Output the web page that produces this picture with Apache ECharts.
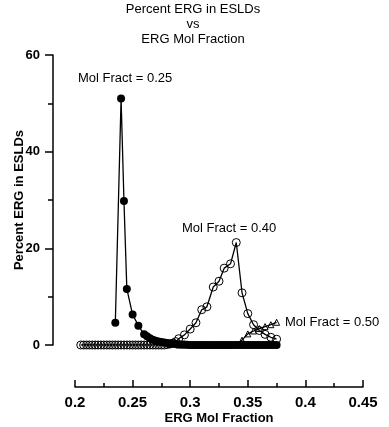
<!DOCTYPE html>
<html>
<head>
<meta charset="utf-8">
<script src="https://cdn.jsdelivr.net/npm/echarts@6/dist/echarts.min.js"></script>
<style>
  html, body { margin: 0; padding: 0; background: #fff; }
  #main { width: 389px; height: 427px; }
</style>
</head>
<body>
<div id="main"></div>
<script>
// Mol Fract = 0.25 (filled circles)
var x025 = [0.235, 0.24, 0.2425, 0.245, 0.25, 0.255, 0.26, 0.2625, 0.265, 0.2675, 0.27, 0.2725,
  0.275, 0.2775, 0.28, 0.2825, 0.285, 0.2875, 0.29, 0.2925, 0.295, 0.2975, 0.3, 0.3025, 0.305,
  0.3075, 0.31, 0.3125, 0.315, 0.3175, 0.32, 0.3225, 0.325, 0.3275, 0.33, 0.3325, 0.335, 0.3375,
  0.34, 0.3425, 0.345, 0.3475, 0.35, 0.3525, 0.355, 0.3575, 0.36, 0.3625, 0.365, 0.3675, 0.37,
  0.3725, 0.375];
var y025 = [4.6, 51, 29.8, 11.6, 6.3, 4.0, 2.2, 1.8, 1.4, 1.1, 0.9, 0.7,
  0.6, 0.5, 0.4, 0.3, 0.25, 0.2, 0.15, 0.1, 0.1, 0.05, 0, 0, 0,
  0, 0, 0, 0, 0, 0, 0, 0, 0, 0, 0, 0, 0,
  0, 0, 0, 0, 0, 0, 0, 0, 0, 0, 0, 0, 0,
  0, 0];

// Mol Fract = 0.40 (open circles)
var x040 = [0.205, 0.2075, 0.21, 0.2125, 0.215, 0.2175, 0.22, 0.2225, 0.225, 0.2275, 0.23, 0.2325,
  0.235, 0.2375, 0.24, 0.2425, 0.245, 0.2475, 0.25, 0.2525, 0.255, 0.2575, 0.26, 0.2625, 0.265,
  0.2675, 0.27, 0.2725, 0.275, 0.2775, 0.28, 0.2825, 0.285, 0.2875,
  0.29, 0.295, 0.3, 0.305, 0.31, 0.3145, 0.32, 0.325, 0.3295, 0.335, 0.34,
  0.345, 0.35, 0.355, 0.36, 0.365, 0.37, 0.375];
var y040 = [0, 0, 0, 0, 0, 0, 0, 0, 0, 0, 0, 0,
  0, 0, 0, 0, 0, 0, 0, 0, 0, 0, 0, 0, 0,
  0, 0, 0, 0, 0, 0.1, 0.2, 0.4, 0.7,
  1.3, 2.1, 3.3, 4.6, 7.3, 7.9, 12.0, 13.2, 15.9, 16.8, 21.2,
  10.8, 6.5, 4.2, 3.0, 2.2, 1.6, 1.2];

// Mol Fract = 0.50 (open triangles)
var x050 = [0.29, 0.295, 0.3, 0.305, 0.31, 0.315, 0.32, 0.325, 0.33, 0.335, 0.34,
  0.345, 0.35, 0.355, 0.36, 0.365, 0.37, 0.375];
var y050 = [0, 0, 0, 0, 0, 0, 0, 0, 0, 0, 0.2,
  1.0, 2.3, 2.9, 3.4, 3.8, 4.2, 4.7];

var xTicks = [0.2, 0.45, 0.05];
var yTicks = [0, 60, 20];

function pairs(xs, ys) {
  return xs.map(function (x, i) { return [x, ys[i]]; });
}

var chart = echarts.init(document.getElementById('main'));
var font = '"Liberation Sans", Arial, sans-serif';

var option = {
  animation: false,
  backgroundColor: '#fff',
  textStyle: { fontFamily: font },
  grid: { left: 75, right: 26, top: 55, bottom: 82, containLabel: false, outerBoundsMode: 'none' },
  xAxis: {
    type: 'value',
    min: xTicks[0], max: xTicks[1], interval: xTicks[2],
    offset: 42,
    axisLine: { show: true, onZero: false, lineStyle: { color: '#000', width: 1.5 } },
    axisTick: { show: true, inside: true, length: 7, lineStyle: { color: '#000', width: 1.5 } },
    minorTick: { show: true, splitNumber: 2, length: 4, lineStyle: { color: '#000', width: 1.5 } },
    splitLine: { show: false },
    axisLabel: { color: '#000', fontWeight: 'bold', fontSize: 15, margin: 8, fontFamily: font },
    name: 'ERG Mol Fraction',
    nameLocation: 'middle',
    nameGap: 25,
    nameMoveOverlap: false,
    nameTextStyle: { color: '#000', fontWeight: 'bold', fontSize: 13, fontFamily: font }
  },
  yAxis: {
    type: 'value',
    min: yTicks[0], max: yTicks[1], interval: yTicks[2],
    offset: 22,
    axisLine: { show: true, onZero: false, lineStyle: { color: '#000', width: 1.5 } },
    axisTick: { show: true, length: 8, lineStyle: { color: '#000', width: 1.5 } },
    minorTick: { show: true, splitNumber: 2, length: 5, lineStyle: { color: '#000', width: 1.5 } },
    splitLine: { show: false },
    axisLabel: { color: '#000', fontWeight: 'bold', fontSize: 13, margin: 13, fontFamily: font },
    name: 'Percent ERG in ESLDs',
    nameLocation: 'middle',
    nameRotate: 90,
    nameGap: 27,
    nameMoveOverlap: false,
    nameTextStyle: { color: '#000', fontWeight: 'bold', fontSize: 13, fontFamily: font }
  },
  title: {
    text: 'Percent ERG in ESLDs\nvs\nERG Mol Fraction',
    left: 193, top: 2, padding: 0, textAlign: 'center',
    textStyle: { color: '#000', fontWeight: 'normal', fontSize: 13, lineHeight: 15, fontFamily: font }
  },
  graphic: [
    { type: 'text', left: 78, top: 72, style: { text: 'Mol Fract = 0.25', fill: '#000', font: '13px ' + font } },
    { type: 'text', left: 182, top: 222, style: { text: 'Mol Fract = 0.40', fill: '#000', font: '13px ' + font } },
    { type: 'text', left: 285, top: 316, style: { text: 'Mol Fract = 0.50', fill: '#000', font: '13px ' + font } }
  ],
  series: [
    {
      name: 'Mol Fract = 0.40',
      type: 'line',
      data: pairs(x040, y040),
      symbol: 'circle', symbolSize: 8, showAllSymbol: true,
      itemStyle: { color: 'rgba(0,0,0,0)', borderColor: '#000', borderWidth: 1 },
      lineStyle: { color: '#000', width: 1.3 }
    },
    {
      name: 'Mol Fract = 0.50',
      type: 'line',
      data: pairs(x050, y050),
      symbol: 'triangle', symbolSize: 6, showAllSymbol: true,
      itemStyle: { color: 'rgba(0,0,0,0)', borderColor: '#000', borderWidth: 1 },
      lineStyle: { color: '#000', width: 1.3 }
    },
    {
      name: 'Mol Fract = 0.25',
      type: 'line',
      data: pairs(x025, y025),
      symbol: 'circle', symbolSize: 8, showAllSymbol: true,
      itemStyle: { color: '#000', borderColor: '#000', borderWidth: 0 },
      lineStyle: { color: '#000', width: 1.3 }
    }
  ]
};

chart.setOption(option);
</script>
</body>
</html>
